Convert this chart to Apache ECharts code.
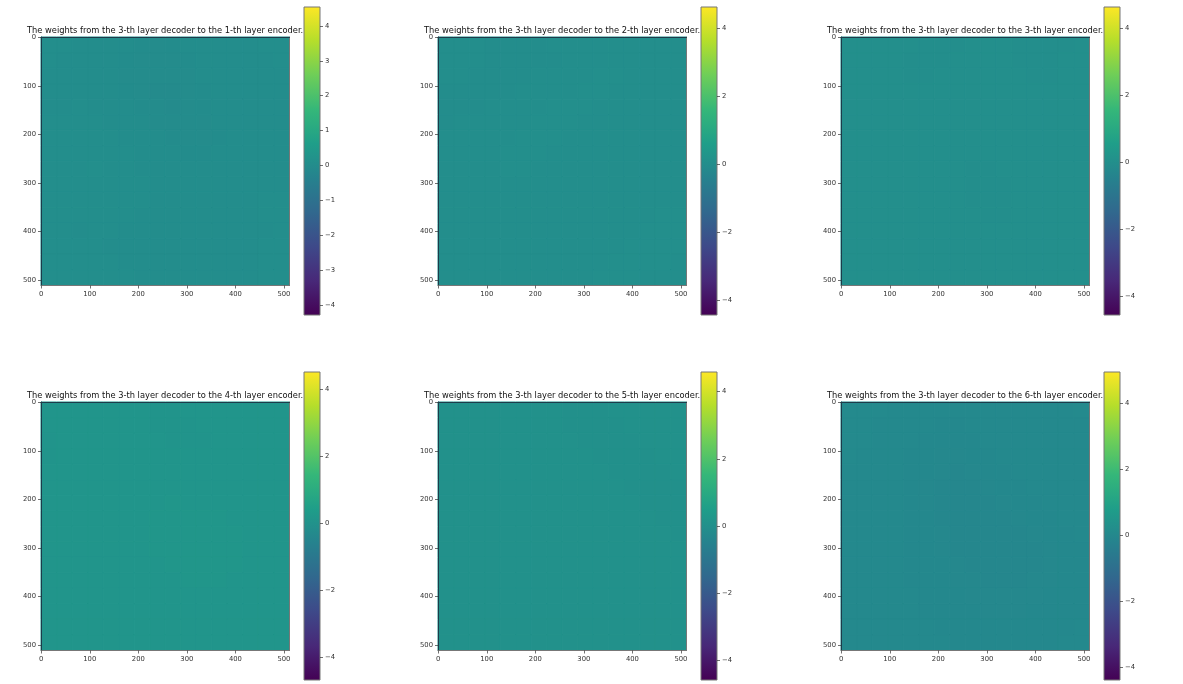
<!DOCTYPE html>
<html>
<head>
<meta charset="utf-8">
<script src="https://cdn.jsdelivr.net/npm/echarts@6/dist/echarts.min.js"></script>
<style>html,body{margin:0;padding:0;background:#fff}#c{width:1183px;height:684px}</style>
</head>
<body>
<div id="c"></div>
<script>
// Local mean weight of each 32x32 block, estimated by eye from the reference.
// The per-pixel noise of the original 512x512 matrices cannot be read from the picture.
const titles = [
  'The weights from the 3-th layer decoder to the 1-th layer encoder.',
  'The weights from the 3-th layer decoder to the 2-th layer encoder.',
  'The weights from the 3-th layer decoder to the 3-th layer encoder.',
  'The weights from the 3-th layer decoder to the 4-th layer encoder.',
  'The weights from the 3-th layer decoder to the 5-th layer encoder.',
  'The weights from the 3-th layer decoder to the 6-th layer encoder.'
];
const colorMin = [-4.28, -4.44, -4.57, -4.69, -4.58, -4.39];
const colorMax = [4.54, 4.62, 4.63, 4.50, 4.58, 4.94];
const ticks1 = [-4, -3, -2, -1, 0, 1, 2, 3, 4];
const ticks2 = [-4, -2, 0, 2, 4];
const axisTicks = [0, 100, 200, 300, 400, 500];

const weights1 = [
[.06,.05,.03,.04,.02,.01,.00,-.01,.00,.01,.02,.03,.03,.04,.05,.05],
[.05,.04,.03,.03,.01,.00,-.01,-.02,-.01,.00,.01,.02,.03,.04,.04,.05],
[.04,.03,.03,.02,.01,-.01,-.02,-.02,-.02,-.01,.01,.02,.03,.03,.04,.04],
[.03,.03,.04,.03,.02,.00,-.01,-.03,-.03,-.01,.00,.02,.02,.03,.03,.03],
[.04,.04,.05,.04,.03,.01,.00,-.02,-.03,-.02,.00,.01,.02,.02,.03,.04],
[.05,.05,.05,.05,.04,.03,.01,-.01,-.02,-.02,-.01,.01,.01,.02,.03,.04],
[.05,.05,.06,.06,.05,.04,.02,.01,.00,-.01,-.01,.00,.01,.02,.03,.03],
[.06,.06,.07,.07,.06,.05,.03,.02,.01,.00,.00,.01,.02,.02,.03,.04],
[.07,.07,.07,.08,.07,.06,.04,.03,.02,.02,.02,.02,.03,.03,.04,.04],
[.06,.07,.07,.07,.07,.06,.05,.04,.03,.03,.03,.03,.03,.04,.04,.04],
[.05,.06,.06,.06,.06,.05,.05,.04,.04,.03,.03,.03,.04,.04,.05,.05],
[.05,.05,.05,.05,.05,.05,.04,.04,.03,.03,.02,.03,.04,.04,.05,.05],
[.05,.05,.04,.05,.05,.04,.04,.03,.03,.02,.02,.02,.03,.04,.04,.05],
[.06,.05,.05,.05,.04,.04,.03,.03,.02,.02,.01,.02,.03,.04,.05,.05],
[.06,.06,.05,.05,.05,.04,.04,.03,.02,.01,.01,.02,.03,.04,.05,.05],
[.07,.06,.06,.05,.05,.05,.04,.04,.03,.02,.02,.03,.03,.04,.05,.06]];
const weights2 = [
[.02,.02,.01,.00,.00,-.01,.00,.01,.01,.02,.02,.03,.02,.02,.01,.01],
[.02,.01,.01,.00,-.01,-.01,.00,.00,.01,.02,.03,.03,.03,.02,.02,.01],
[.01,.01,.00,.00,-.01,.00,.01,.02,.02,.03,.04,.04,.03,.03,.02,.02],
[.00,.00,.00,.00,.00,.01,.02,.03,.03,.04,.04,.03,.03,.02,.02,.02],
[.00,.00,.00,.01,.01,.02,.03,.04,.04,.04,.03,.03,.02,.02,.01,.01],
[.00,.01,.01,.02,.02,.03,.04,.04,.04,.03,.03,.02,.02,.01,.01,.01],
[.01,.01,.02,.03,.03,.04,.04,.04,.03,.03,.02,.02,.01,.01,.01,.02],
[.01,.02,.02,.03,.04,.04,.04,.03,.03,.02,.02,.01,.01,.01,.02,.02],
[.02,.02,.03,.03,.04,.04,.03,.03,.02,.02,.01,.01,.01,.02,.02,.03],
[.02,.03,.03,.03,.03,.03,.03,.02,.02,.01,.01,.01,.02,.02,.03,.03],
[.03,.03,.03,.03,.03,.02,.02,.02,.01,.01,.01,.02,.02,.03,.03,.03],
[.03,.03,.03,.02,.02,.02,.02,.01,.01,.01,.02,.02,.03,.03,.04,.04],
[.03,.03,.02,.02,.02,.01,.01,.01,.01,.02,.02,.03,.03,.04,.04,.04],
[.03,.02,.02,.02,.01,.01,.01,.01,.02,.02,.03,.03,.04,.04,.04,.04],
[.02,.02,.02,.01,.01,.01,.01,.02,.02,.03,.03,.04,.04,.04,.04,.03],
[.02,.02,.01,.01,.01,.01,.02,.02,.03,.03,.04,.04,.04,.03,.03,.03]];
const weights3 = [
[-.01,-.01,-.01,-.02,-.02,-.03,-.03,-.03,-.02,-.02,-.02,-.03,-.03,-.03,-.03,-.02],
[-.01,-.01,-.02,-.02,-.03,-.03,-.03,-.02,-.02,-.02,-.02,-.03,-.03,-.03,-.02,-.02],
[-.01,-.01,-.02,-.02,-.03,-.03,-.02,-.02,-.01,-.01,-.02,-.02,-.03,-.03,-.02,-.02],
[.00,-.01,-.01,-.02,-.02,-.02,-.02,-.01,-.01,-.01,-.01,-.02,-.02,-.02,-.02,-.02],
[.00,.00,-.01,-.01,-.02,-.02,-.01,-.01,-.01,-.01,-.01,-.01,-.02,-.02,-.02,-.01],
[.00,.00,.00,-.01,-.01,-.01,-.01,-.01,-.01,-.01,-.01,-.01,-.01,-.02,-.01,-.01],
[-.01,.00,.00,.00,-.01,-.01,-.01,-.01,-.02,-.02,-.01,-.01,-.01,-.01,-.01,-.01],
[-.01,-.01,.00,.00,.00,-.01,-.01,-.02,-.02,-.02,-.02,-.01,-.01,-.01,-.01,.00],
[-.02,-.01,-.01,.00,.00,-.01,-.01,-.02,-.03,-.03,-.02,-.02,-.01,-.01,.00,.00],
[-.02,-.02,-.01,-.01,.00,-.01,-.01,-.02,-.03,-.03,-.03,-.02,-.01,-.01,.00,.00],
[-.02,-.02,-.02,-.01,-.01,-.01,-.02,-.02,-.03,-.03,-.03,-.02,-.02,-.01,-.01,.00],
[-.01,-.02,-.02,-.02,-.01,-.01,-.02,-.02,-.02,-.03,-.03,-.02,-.02,-.01,-.01,-.01],
[-.01,-.01,-.02,-.02,-.02,-.02,-.02,-.02,-.02,-.02,-.02,-.02,-.02,-.01,-.01,-.01],
[.00,-.01,-.01,-.02,-.02,-.02,-.02,-.02,-.02,-.02,-.02,-.02,-.01,-.01,-.01,-.01],
[.00,.00,-.01,-.01,-.02,-.02,-.02,-.02,-.01,-.01,-.01,-.01,-.01,-.01,-.01,-.01],
[.00,.00,.00,-.01,-.01,-.01,-.01,-.01,-.01,-.01,-.01,-.01,-.01,.00,.00,.00]];
const weights4 = [
[.07,.07,.08,.08,.08,.07,.07,.06,.06,.07,.07,.08,.08,.08,.07,.07],
[.07,.08,.08,.09,.09,.08,.07,.06,.06,.06,.07,.07,.08,.08,.08,.07],
[.06,.07,.08,.08,.09,.09,.08,.07,.06,.06,.06,.07,.07,.08,.08,.08],
[.06,.07,.07,.08,.09,.09,.09,.08,.07,.07,.07,.07,.07,.07,.08,.08],
[.07,.07,.07,.08,.08,.09,.09,.09,.09,.08,.08,.08,.08,.08,.08,.08],
[.08,.08,.07,.07,.08,.09,.10,.10,.10,.09,.09,.09,.09,.09,.09,.08],
[.08,.08,.08,.08,.08,.09,.10,.10,.11,.10,.10,.10,.10,.09,.09,.09],
[.09,.09,.09,.09,.09,.09,.10,.11,.11,.11,.11,.11,.10,.10,.09,.09],
[.10,.10,.10,.10,.10,.10,.10,.11,.11,.12,.11,.11,.11,.10,.10,.09],
[.10,.10,.10,.10,.10,.10,.10,.11,.11,.11,.12,.11,.11,.10,.10,.10],
[.10,.10,.10,.10,.10,.10,.10,.10,.11,.11,.11,.11,.11,.10,.10,.10],
[.10,.10,.10,.09,.09,.10,.10,.10,.10,.11,.11,.11,.10,.10,.10,.10],
[.09,.09,.09,.09,.09,.09,.10,.10,.10,.10,.10,.10,.10,.10,.09,.09],
[.09,.09,.09,.08,.08,.09,.09,.10,.10,.10,.10,.10,.09,.09,.09,.09],
[.09,.09,.08,.08,.08,.08,.09,.09,.10,.10,.09,.09,.09,.09,.09,.09],
[.09,.08,.08,.08,.08,.08,.09,.09,.09,.09,.09,.09,.09,.09,.09,.10]];
const weights5 = [
[.02,.02,.02,.03,.03,.03,.02,.02,.01,.01,.01,.02,.02,.02,.03,.03],
[.02,.02,.03,.03,.04,.03,.03,.02,.01,.01,.01,.01,.02,.02,.03,.03],
[.02,.03,.03,.04,.04,.04,.03,.02,.02,.01,.01,.01,.01,.02,.02,.03],
[.03,.03,.03,.04,.04,.04,.03,.03,.02,.02,.01,.01,.01,.01,.02,.02],
[.03,.03,.03,.03,.04,.04,.04,.03,.03,.02,.02,.01,.01,.01,.01,.02],
[.03,.03,.03,.03,.03,.04,.04,.04,.03,.03,.02,.02,.01,.01,.01,.01],
[.02,.02,.03,.03,.03,.03,.04,.04,.04,.03,.03,.02,.02,.01,.01,.01],
[.02,.02,.02,.02,.03,.03,.03,.04,.04,.04,.03,.03,.02,.02,.01,.01],
[.02,.02,.02,.02,.02,.03,.03,.03,.04,.04,.04,.03,.03,.02,.02,.01],
[.03,.02,.02,.02,.02,.02,.03,.03,.03,.04,.04,.04,.03,.03,.02,.02],
[.03,.03,.02,.02,.02,.02,.02,.03,.03,.03,.04,.04,.04,.03,.03,.02],
[.04,.03,.03,.02,.02,.02,.02,.02,.03,.03,.03,.04,.04,.04,.03,.03],
[.04,.04,.03,.03,.02,.02,.02,.02,.02,.03,.03,.03,.04,.04,.04,.03],
[.04,.04,.04,.03,.03,.02,.02,.02,.02,.02,.03,.03,.03,.04,.04,.04],
[.03,.04,.04,.04,.03,.03,.02,.02,.02,.02,.02,.03,.03,.03,.04,.04],
[.03,.03,.04,.04,.04,.03,.03,.02,.02,.02,.02,.02,.03,.03,.03,.04]];
const weights6 = [
[.06,.05,.04,.03,.02,.01,.01,.00,.00,.01,.01,.02,.02,.03,.03,.04],
[.05,.04,.03,.02,.01,.00,-.01,-.01,.00,.00,.01,.01,.02,.02,.03,.03],
[.04,.04,.03,.01,.00,-.01,-.02,-.02,-.01,.00,.00,.01,.01,.02,.02,.03],
[.04,.03,.02,.01,-.01,-.02,-.03,-.03,-.02,-.01,.00,.00,.01,.01,.02,.02],
[.03,.03,.02,.00,-.01,-.02,-.03,-.04,-.03,-.02,-.01,.00,.00,.01,.01,.02],
[.03,.02,.01,.00,-.02,-.03,-.04,-.04,-.04,-.03,-.02,-.01,.00,.00,.01,.01],
[.02,.02,.01,.00,-.01,-.03,-.04,-.05,-.05,-.04,-.03,-.02,-.01,.00,.00,.01],
[.02,.01,.01,.00,-.01,-.02,-.04,-.05,-.05,-.05,-.04,-.03,-.02,-.01,.00,.00],
[.01,.01,.00,.00,-.01,-.02,-.03,-.04,-.05,-.05,-.05,-.04,-.03,-.02,-.01,.00],
[.01,.01,.00,.00,-.01,-.02,-.03,-.04,-.04,-.05,-.05,-.04,-.04,-.03,-.02,-.01],
[.01,.00,.00,.00,-.01,-.02,-.02,-.03,-.04,-.04,-.04,-.04,-.04,-.03,-.02,-.01],
[.01,.00,.00,.00,-.01,-.01,-.02,-.03,-.03,-.04,-.04,-.04,-.03,-.03,-.02,-.01],
[.01,.01,.00,.00,.00,-.01,-.02,-.02,-.03,-.03,-.03,-.03,-.03,-.02,-.02,-.01],
[.02,.01,.01,.00,.00,-.01,-.01,-.02,-.02,-.03,-.03,-.03,-.02,-.02,-.01,-.01],
[.02,.02,.01,.01,.00,.00,-.01,-.01,-.02,-.02,-.02,-.02,-.02,-.01,-.01,.00],
[.03,.02,.02,.01,.01,.00,.00,-.01,-.01,-.01,-.02,-.02,-.01,-.01,.00,.00]];
const weights = [weights1, weights2, weights3, weights4, weights5, weights6];

const viridis = ['#440154','#482878','#3e4989','#31688e','#26828e','#1f9e89','#35b779','#6ece58','#b5de2b','#fde725'];
const layoutLeft = [41, 438, 841];
const layoutBar = [304, 701, 1104];
const layoutTop = [37, 402];
const barTop = [7, 372];
const FONT = '"DejaVu Sans", sans-serif';
const TICKS = '#333';
const EDGE = '#777';
const DARK = '#1d3b4a';
const CELL = 32;

const option = {
  animation: false, backgroundColor: '#fff',
  title: [], grid: [], xAxis: [], yAxis: [], visualMap: [], series: []
};

function addAxis(list, base, extra) { list.push(Object.assign({}, base, extra)); return list.length - 1; }

weights.forEach((matrix, p) => {
  const col = p % 3, row = Math.floor(p / 3);
  const left = layoutLeft[col], top = layoutTop[row];
  option.title.push({
    text: titles[p], left: left - 14, top: top - 10,
    padding: 0,
    textStyle: {fontFamily: FONT, fontSize: 8.3, fontWeight: 'normal', color: '#111'}
  });

  const g = option.grid.length;
  option.grid.push({left, top, width: 248.5, height: 248.5, containLabel: false});
  const xBase = {type: 'value', gridIndex: g, min: -0.5, max: 511.5, splitLine: {show: false}, z: 5};
  const yBase = {type: 'value', gridIndex: g, min: -0.5, max: 511.5, inverse: true, splitLine: {show: false}, z: 5};
  const x0 = addAxis(option.xAxis, xBase, {
    position: 'bottom',
    axisLine: {show: true, onZero: false, lineStyle: {color: EDGE, width: 1}},
    axisTick: {show: true, length: 3, lineStyle: {color: TICKS, width: .7}, customValues: axisTicks},
    axisLabel: {show: true, margin: 5, fontSize: 6.8, fontFamily: FONT, color: TICKS, customValues: axisTicks}
  });
  addAxis(option.xAxis, xBase, {
    position: 'top', axisLine: {show: true, onZero: false, lineStyle: {color: DARK, width: 1}},
    axisTick: {show: false}, axisLabel: {show: false}
  });
  const y0 = addAxis(option.yAxis, yBase, {
    position: 'left',
    axisLine: {show: true, onZero: false, lineStyle: {color: DARK, width: 1}},
    axisTick: {show: true, length: 3, lineStyle: {color: TICKS, width: .7}, customValues: axisTicks},
    axisLabel: {show: true, margin: 5, fontSize: 6.8, fontFamily: FONT, color: TICKS, customValues: axisTicks}
  });
  addAxis(option.yAxis, yBase, {
    position: 'right', axisLine: {show: true, onZero: false, lineStyle: {color: EDGE, width: 1}},
    axisTick: {show: false}, axisLabel: {show: false}
  });

  const cells = [];
  matrix.forEach((r, i) => r.forEach((v, j) => {
    cells.push([j * CELL - .5, i * CELL - .5, (j + 1) * CELL - .5, (i + 1) * CELL - .5, v]);
  }));
  const si = option.series.length;
  option.series.push({
    type: 'custom', xAxisIndex: x0, yAxisIndex: y0, data: cells, silent: true,
    encode: {x: [0, 2], y: [1, 3]},
    renderItem(params, api) {
      const a = api.coord([api.value(0), api.value(1)]);
      const b = api.coord([api.value(2), api.value(3)]);
      const c = api.visual('color');
      return {type: 'rect', shape: {x: a[0], y: a[1], width: b[0] - a[0], height: b[1] - a[1]},
        style: {fill: c, stroke: c, lineWidth: 1}};
    }
  });
  option.visualMap.push({
    show: false, type: 'continuous', seriesIndex: si, dimension: 4,
    min: colorMin[p], max: colorMax[p], inRange: {color: viridis}
  });

  // colorbar
  const gb = option.grid.length;
  option.grid.push({left: layoutBar[col], top: barTop[row], width: 16, height: 308});
  const tickVals = p === 0 ? ticks1 : ticks2;
  const xb = addAxis(option.xAxis, {type: 'value', gridIndex: gb, min: 0, max: 1, show: false}, {});
  const yb = addAxis(option.yAxis, {
    type: 'value', gridIndex: gb, position: 'right', min: colorMin[p], max: colorMax[p],
    splitLine: {show: false}, z: 5,
    axisLine: {show: false, onZero: false},
    axisTick: {show: true, length: 3, lineStyle: {color: TICKS, width: .7}, customValues: tickVals},
    axisLabel: {show: true, margin: 5, fontSize: 6.8, fontFamily: FONT, color: TICKS, customValues: tickVals,
      formatter: v => String(v).replace('-', '\u2212')}
  }, {});
  option.series.push({
    type: 'custom', xAxisIndex: xb, yAxisIndex: yb, silent: true,
    data: [[0, colorMin[p], 1, colorMax[p]]], encode: {x: [0, 2], y: [1, 3]},
    renderItem(params, api) {
      const a = api.coord([api.value(0), api.value(3)]);
      const b = api.coord([api.value(2), api.value(1)]);
      return {type: 'rect', shape: {x: a[0], y: a[1], width: b[0] - a[0], height: b[1] - a[1]},
        style: {stroke: EDGE, lineWidth: 1, fill: {type: 'linear', x: 0, y: 1, x2: 0, y2: 0,
          colorStops: viridis.map((color, i) => ({offset: i / (viridis.length - 1), color}))}}};
    }
  });
});

echarts.init(document.getElementById('c'), null, {renderer: 'canvas'}).setOption(option);
</script>
</body>
</html>
